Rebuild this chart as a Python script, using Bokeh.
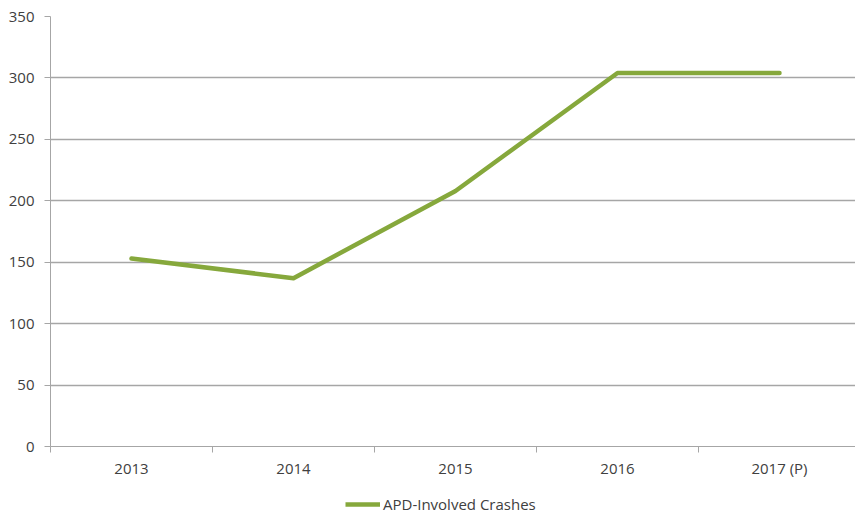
from bokeh.plotting import figure
from bokeh.layouts import column
from bokeh.models import Range1d, FixedTicker, Legend, LegendItem, LinearAxis
from bokeh.embed import file_html
from bokeh.resources import INLINE

years = ["2013", "2014", "2015", "2016", "2017 (P)"]
crashes = [153, 137, 208, 304, 304]
y_ticks = [0, 50, 100, 150, 200, 250, 300, 350]
series_name = "APD-Involved Crashes"

idx = list(range(len(years)))
boundaries = [i - 0.5 for i in range(len(years) + 1)]

FONT = "Open Sans"
TEXT = "#404040"
GRID = "#a6a6a6"
GREEN = "#86a83c"

p = figure(width=855, height=480, output_backend="svg", toolbar_location=None,
           x_range=Range1d(-0.5, -0.5 + 805 / 162), y_range=Range1d(0, 350),
           min_border_left=50, min_border_right=0, min_border_top=16,
           min_border_bottom=34, x_axis_location=None, y_axis_location=None)
p.outline_line_color = None
p.background_fill_color = "white"
p.border_fill_color = "white"

r = p.line(idx, crashes, line_color=GREEN, line_width=4.5, line_join="round", line_cap="round")

xa = LinearAxis(ticker=FixedTicker(ticks=idx, minor_ticks=boundaries),
                major_label_overrides={i: y for i, y in zip(idx, years)})
xa.major_tick_out = 0
xa.major_tick_in = 0
xa.minor_tick_out = 6
xa.minor_tick_in = 0
xa.minor_tick_line_color = GRID
xa.axis_line_color = GRID
xa.major_label_standoff = 5
xa.major_label_text_font = FONT
xa.major_label_text_font_size = "15px"
xa.major_label_text_color = TEXT
p.add_layout(xa, "below")

ya = LinearAxis(ticker=FixedTicker(ticks=y_ticks))
ya.major_tick_out = 6
ya.major_tick_in = 0
ya.major_tick_line_color = GRID
ya.minor_tick_line_color = None
ya.axis_line_color = GRID
ya.major_label_standoff = 10
ya.major_label_text_font = FONT
ya.major_label_text_font_size = "15px"
ya.major_label_text_color = TEXT
p.add_layout(ya, "left")

p.xgrid.visible = False
p.ygrid.ticker = FixedTicker(ticks=y_ticks)
p.ygrid.grid_line_color = GRID
p.ygrid.grid_line_width = 1.3

# legend strip below the chart
p2 = figure(width=855, height=37, output_backend="svg", toolbar_location=None,
            x_range=Range1d(-0.5, 4.5), y_range=Range1d(1000, 2000),
            min_border_left=0, min_border_right=0, min_border_top=0,
            min_border_bottom=0, x_axis_location=None, y_axis_location=None)
p2.outline_line_color = None
p2.xgrid.visible = False
p2.ygrid.visible = False
r2 = p2.line(idx, crashes, line_color=GREEN, line_width=4.5)

legend = Legend(items=[LegendItem(label=series_name, renderers=[r2])],
                location=(295, 3), orientation="horizontal",
                label_text_font=FONT, label_text_font_size="15px",
                label_text_color=TEXT, glyph_width=35, glyph_height=20,
                label_height=20, label_standoff=3, padding=0, margin=0,
                spacing=0, border_line_color=None, background_fill_alpha=0)
p2.add_layout(legend, "center")

open("out.html", "w").write(file_html(column(p, p2, spacing=0), INLINE))
